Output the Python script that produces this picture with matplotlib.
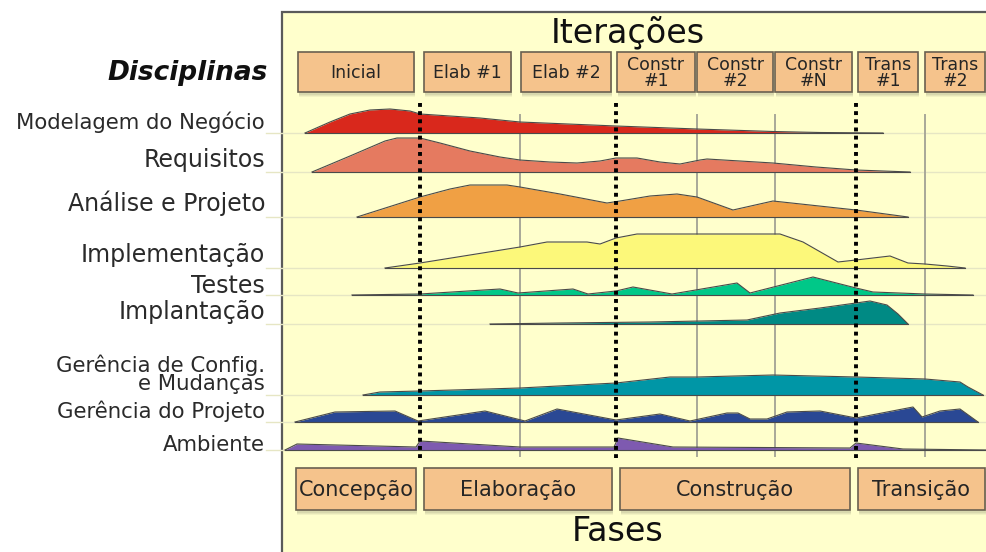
import matplotlib
matplotlib.use('Agg')
import matplotlib.pyplot as plt
from matplotlib.patches import Rectangle

# disciplinas (rótulo, linha de base, cor)
disciplinas = ['Modelagem do Negócio', 'Requisitos', 'Análise e Projeto',
               'Implementação', 'Testes', 'Implantação',
               'Gerência de Config.\ne Mudanças', 'Gerência do Projeto', 'Ambiente']
bases = [133, 172, 217, 268, 295, 324, 395, 422, 450]
cores = ['#D9281C', '#E57A60', '#F0A044', '#FCF87A', '#00C888',
         '#008A84', '#0096A6', '#2A4894', '#7E5AB0']

# perfis de esforço (posição no tempo, altura)
mod_x = [305, 330, 350, 370, 390, 410, 420, 450, 480, 520, 616, 697, 773, 820, 883]
mod_h = [0, 11, 19, 23, 24, 22, 19, 17, 15, 11, 7, 4, 1.5, 0.5, 0]
req_x = [312, 350, 385, 397, 420, 440, 470, 500, 520, 550, 577, 600, 616, 637,
         660, 680, 700, 707, 740, 773, 816, 856, 910]
req_h = [0, 16, 31, 34, 34, 29, 21, 15, 12, 10, 9, 11, 14, 14,
         10, 8, 12, 13, 11, 9, 5, 2, 0]
ana_x = [357, 420, 450, 470, 507, 520, 560, 607, 620, 650, 677, 697, 733, 773, 856, 908]
ana_h = [0, 20, 28, 32, 32, 30, 23, 14, 16, 21, 23, 20, 7, 16, 7, 0]
imp_x = [385, 420, 520, 547, 587, 600, 616, 637, 780, 803, 838, 856, 890, 908, 925, 947, 965]
imp_h = [0, 5, 21, 26, 26, 24, 30, 34, 34, 26, 6, 8, 12, 5, 4, 2, 0]
tes_x = [352, 420, 500, 518, 573, 588, 616, 633, 672, 737, 750, 813, 856, 873, 925, 973]
tes_h = [0, 1, 6, 2, 6, 1, 4, 8, 1, 12, 2, 18, 7, 3, 1, 0]
ipl_x = [490, 560, 650, 700, 747, 780, 820, 856, 870, 887, 898, 908]
ipl_h = [0, 1, 2, 3, 4, 11, 16, 21, 23, 19, 10, 0]
cfg_x = [363, 380, 420, 520, 616, 670, 697, 773, 856, 925, 960, 968, 983]
cfg_h = [0, 3, 4, 7, 12, 18, 18, 20, 18, 16, 13, 8, 0]
ger_x = [295, 335, 395, 418, 485, 525, 557, 616, 660, 690, 727, 738, 750, 767,
         787, 820, 856, 913, 922, 940, 960, 978]
ger_h = [0, 10, 11, 1, 11, 1, 13, 2, 8, 1, 9, 9, 3, 3,
         10, 11, 4, 15, 5, 11, 13, 0]
amb_x = [285, 297, 416, 420, 520, 614, 618, 673, 850, 856, 903, 987]
amb_h = [0, 6, 3, 9, 3, 3, 12, 3, 2, 7, 1, 0]
perfis = [(mod_x, mod_h), (req_x, req_h), (ana_x, ana_h), (imp_x, imp_h),
          (tes_x, tes_h), (ipl_x, ipl_h), (cfg_x, cfg_h), (ger_x, ger_h), (amb_x, amb_h)]

# iterações e fases
iteracoes = ['Inicial', 'Elab #1', 'Elab #2', 'Constr\n#1', 'Constr\n#2',
             'Constr\n#N', 'Trans\n#1', 'Trans\n#2']
iter_ini = [298, 424, 521, 617, 697, 775, 858, 925]
iter_fim = [414, 511, 611, 695, 773, 852, 918, 985]
fases = ['Concepção', 'Elaboração', 'Construção', 'Transição']
fase_ini = [296, 424, 620, 858]
fase_fim = [416, 612, 850, 985]
marcos = [420, 616, 856]
divisoes = [520, 697, 775, 925]

fig = plt.figure(figsize=(9.87, 5.52), dpi=100)
ax = fig.add_axes([0, 0, 1, 1])
ax.set_xlim(0, 987)
ax.set_ylim(552, 0)
ax.axis('off')

ax.add_patch(Rectangle((282, 12), 710, 545, fc='#FFFFCC', ec='#5A5A5A', lw=1.6, zorder=0))


def caixa(x0, x1, y0, y1, texto, tam):
    for k, a in zip([5, 4, 3], [0.10, 0.12, 0.15]):
        ax.add_patch(Rectangle((x0 + 1, y0 + k), x1 - x0, y1 - y0, fc='#8A8A70',
                               ec='none', alpha=a, zorder=1))
    ax.add_patch(Rectangle((x0, y0), x1 - x0, y1 - y0, fc='#F5C38C', ec='#6A6050',
                           lw=1.2, zorder=2))
    ax.text((x0 + x1) / 2, (y0 + y1) / 2 + 1, texto, ha='center', va='center',
            fontsize=tam, color='#252525', linespacing=0.9, zorder=3)


ax.text(628, 42, 'Iterações', ha='center', va='baseline', fontsize=24, color='#101010')
ax.text(618, 541, 'Fases', ha='center', va='baseline', fontsize=24, color='#101010')
ax.text(268, 80, 'Disciplinas', ha='right', va='baseline', fontsize=19,
        fontweight='bold', fontstyle='italic', color='#101010')

for nome, a, b in zip(iteracoes, iter_ini, iter_fim):
    caixa(a, b, 52, 92, nome, 12.5)
for nome, a, b in zip(fases, fase_ini, fase_fim):
    caixa(a, b, 468, 510, nome, 15)

# linhas de referência
for b in bases:
    ax.plot([266, 987], [b, b], color='#E6E6C4', lw=1, zorder=1)
for x in divisoes:
    ax.plot([x, x], [115, 456], color='#A8A898', lw=1.4, zorder=1)

# corcovas
for (xs, hs), b, c in zip(perfis, bases, cores):
    topo = [b - h for h in hs]
    ax.fill_between(xs, b, topo, color=c, lw=0, zorder=3)
    ax.plot(xs, topo, color='#4A4A4A', lw=0.8, zorder=4)
    ax.plot([xs[0], xs[-1]], [b, b], color='#4A4A4A', lw=0.8, zorder=4)

for x in marcos:
    ax.plot([x, x], [103, 458], color='black', lw=2.8, ls=(0, (1, 1.1)), zorder=5)

# rótulos das disciplinas
linhas_base = [129, 167, 211, 262, 293, 319, 390, 418, 451]
tamanhos = [15.3, 17, 17, 17, 17, 17, 15.3, 15.3, 15.3]
for nome, y, t in zip(disciplinas, linhas_base, tamanhos):
    ax.text(265, y, nome, ha='right', va='baseline', fontsize=t, color='#2A2A2A',
            multialignment='right', linespacing=0.88)

fig.savefig('out.png', dpi=100)
